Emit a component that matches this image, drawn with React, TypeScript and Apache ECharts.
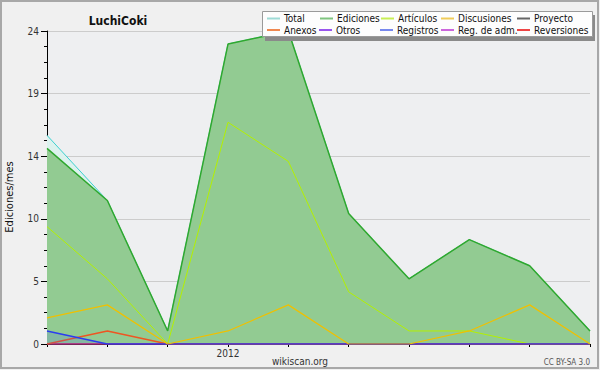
import React, { useEffect, useRef } from "react";
import * as echarts from "echarts";

const months = ["2011-10", "2011-11", "2011-12", "2012-01", "2012-02", "2012-03", "2012-04", "2012-05", "2012-06", "2012-07"];
const total = [16, 11, 1, 23, 24, 10, 5, 8, 6, 1];
const ediciones = [15, 11, 1, 23, 24, 10, 5, 8, 6, 1];
const articulos = [9, 5, 0, 17, 14, 4, 1, 1, 0, 0];
const discusiones = [2, 3, 0, 1, 3, 0, 0, 1, 3, 0];
const proyecto = [0, 0, 0, 0, 0, 0, 0, 0, 0, 0];
const anexos = [0, 1, 0, 0, 0, 0, 0, 0, 0, 0];
const otros = [0, 0, 0, 0, 0, 0, 0, 0, 0, 0];
const registros = [1, 0, 0, 0, 0, 0, 0, 0, 0, 0];
const regAdm = [0, 0, 0, 0, 0, 0, 0, 0, 0, 0];
const reversiones = [0, 0, 0, 0, 0, 0, 0, 0, 0, 0];

const FONT = "'DejaVu Sans Condensed', 'DejaVu Sans', sans-serif";

export default function App() {
  const ref = useRef<HTMLDivElement>(null);
  useEffect(() => {
    if (!ref.current) return;
    const chart = echarts.init(ref.current, null, { renderer: "svg" });

    const line = (name: string, data: number[], color: string, width = 1, area?: any, z = 2) => ({
      name,
      type: "line",
      data,
      showSymbol: false,
      symbol: "none",
      z,
      lineStyle: { color, width },
      itemStyle: { color },
      areaStyle: area,
    });

    const legendItems = [
      { name: "Total", color: "#9edbd6", x: 267, row: 0 },
      { name: "Ediciones", color: "#7fc47f", x: 320, row: 0 },
      { name: "Artículos", color: "#c8ee55", x: 381, row: 0 },
      { name: "Discusiones", color: "#f0cc5a", x: 441, row: 0 },
      { name: "Proyecto", color: "#666666", x: 517, row: 0 },
      { name: "Anexos", color: "#f08850", x: 267, row: 1 },
      { name: "Otros", color: "#9955ee", x: 319, row: 1 },
      { name: "Registros", color: "#7788ee", x: 380, row: 1 },
      { name: "Reg. de adm.", color: "#cc66dd", x: 441, row: 1 },
      { name: "Reversiones", color: "#ee4444", x: 517, row: 1 },
    ];

    chart.setOption({
      animation: false,
      backgroundColor: "#f0f0f0",
      title: {
        text: "LuchiCoki",
        left: 113,
        top: 10,
        textAlign: "center",
        textStyle: { fontFamily: FONT, fontSize: 12, fontWeight: "bold", color: "#111" },
      },
      legend: legendItems.map((it) => ({
        data: [{ name: it.name, itemStyle: { color: it.color } }],
        left: it.x,
        top: it.row === 0 ? 13.5 : 25,
        padding: 0,
        itemWidth: 13,
        itemHeight: 2,
        itemGap: 0,
        icon: "rect",
        selectedMode: false,
        z: 20,
        textStyle: { fontFamily: FONT, fontSize: 10, lineHeight: 10, color: "#111", padding: [0, 0, 0, -1] },
      })),
      grid: { left: 47, right: 10, top: 31, bottom: 26, show: true, backgroundColor: "#eeeff1", borderWidth: 0 },
      xAxis: {
        type: "category",
        data: months,
        boundaryGap: false,
        axisLine: { lineStyle: { color: "#000", width: 1 } },
        axisTick: { show: true, length: 3, alignWithLabel: true, interval: 0, lineStyle: { color: "#000" } },
        axisLabel: {
          interval: 0,
          margin: 4,
          fontFamily: FONT,
          fontSize: 10,
          color: "#333",
          formatter: (v: string) => (v === "2012-01" ? "2012" : ""),
        },
        splitLine: { show: false },
      },
      yAxis: {
        type: "value",
        min: 0,
        max: 24,
        interval: 4.8,
        axisLine: { show: true, lineStyle: { color: "#000", width: 1 } },
        axisTick: { show: true, length: 6, lineStyle: { color: "#000" } },
        minorTick: { show: true, splitNumber: 4, length: 3, lineStyle: { color: "#000" } },
        axisLabel: {
          margin: 8,
          fontFamily: FONT,
          fontSize: 10,
          color: "#333",
          formatter: (v: number) => String(Math.round(v)),
        },
        splitLine: { show: true, lineStyle: { color: "#cccccc", width: 1 } },
      },
      series: [
        line("Total", total, "#3cd0d0", 1, { color: "#dcf2ee", opacity: 1 }, 2),
        line("Ediciones", ediciones, "#2fa82f", 1.5, { color: "#92cb92", opacity: 1 }, 3),
        line("Proyecto", proyecto, "#555555", 1, undefined, 3),
        line("Otros", otros, "#8844dd", 1, undefined, 3),
        line("Reg. de adm.", regAdm, "#cc44dd", 1, undefined, 3),
        line("Reversiones", reversiones, "#dd2222", 1, undefined, 3),
        line("Artículos", articulos, "#b4f000", 1, undefined, 4),
        line("Anexos", anexos, "#ee5522", 1.5, undefined, 4),
        line("Registros", registros, "#2b3cf0", 1.5, { color: "rgba(60,80,255,0.22)" }, 5),
        line("Discusiones", discusiones, "#f0c000", 1.2, undefined, 5),
      ],
      graphic: [
        {
          type: "rect",
          z: 100,
          silent: true,
          shape: { x: 1, y: 1, width: 597, height: 367 },
          style: { fill: "none", stroke: "#a8a8a8", lineWidth: 2 },
        },
        {
          type: "rect",
          z: 15,
          shape: { x: 265, y: 15, width: 330, height: 26 },
          style: { fill: "#8a8a8a" },
        },
        {
          type: "rect",
          z: 16,
          shape: { x: 262.5, y: 11.5, width: 330, height: 25 },
          style: { fill: "#fdfdfd", stroke: "#9a9a9a", lineWidth: 1 },
        },
        {
          type: "text",
          z: 10,
          x: 9,
          y: 197,
          rotation: Math.PI / 2,
          style: {
            text: "Ediciones/mes",
            fontFamily: FONT,
            fontSize: 11,
            fill: "#111",
            align: "center",
            verticalAlign: "middle",
          },
        },
        {
          type: "text",
          z: 10,
          x: 300,
          y: 361,
          style: {
            text: "wikiscan.org",
            fontFamily: FONT,
            fontSize: 10,
            fill: "#333",
            align: "center",
            verticalAlign: "middle",
          },
        },
        {
          type: "text",
          z: 10,
          x: 590,
          y: 362,
          style: {
            text: "CC BY-SA 3.0",
            fontFamily: FONT,
            fontSize: 8,
            fill: "#555",
            align: "right",
            verticalAlign: "middle",
          },
        },
      ],
    });
    return () => chart.dispose();
  }, []);
  return <div ref={ref} style={{ position: "fixed", left: 0, top: 0, width: 600, height: 370 }} />;
}
